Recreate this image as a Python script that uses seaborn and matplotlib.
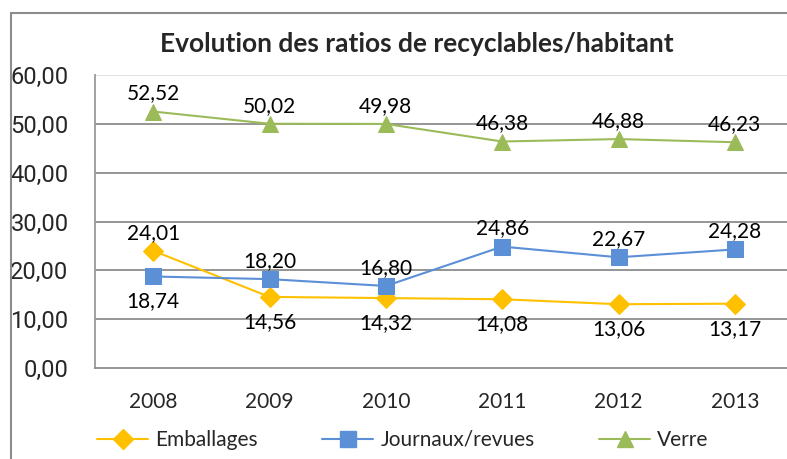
import matplotlib.pyplot as plt
from matplotlib.lines import Line2D
import seaborn as sns
import pandas as pd

years = [2008, 2009, 2010, 2011, 2012, 2013]
emballages = [24.01, 14.56, 14.32, 14.08, 13.06, 13.17]
journaux = [18.74, 18.20, 16.80, 24.86, 22.67, 24.28]
verre = [52.52, 50.02, 49.98, 46.38, 46.88, 46.23]
series_names = ['Emballages', 'Journaux/revues', 'Verre']
yticks = [0, 10, 20, 30, 40, 50, 60]

# label above (+1) or below (-1) each point
emb_side = [1, -1, -1, -1, -1, -1]
jou_side = [-1, 1, 1, 1, 1, 1]
ver_side = [1, 1, 1, 1, 1, 1]

colors = {'Emballages': '#FFC000', 'Journaux/revues': '#5B8FD6', 'Verre': '#9BBB59'}
markers = {'Emballages': 'D', 'Journaux/revues': 's', 'Verre': '^'}
msizes = {'Emballages': 10, 'Journaux/revues': 11, 'Verre': 12}

df = pd.DataFrame({'year': years * 3,
                   'value': emballages + journaux + verre,
                   'serie': [s for s in series_names for _ in years]})

sns.set_style('white')
plt.rcParams['font.family'] = ['Lato', 'DejaVu Sans']

fig = plt.figure(figsize=(7.87, 4.59), dpi=100)
ax = fig.add_axes([95/787, 91/459, 698/787, 293/459])

for name, vals, sides in zip(series_names, [emballages, journaux, verre], [emb_side, jou_side, ver_side]):
    sub = df[df['serie'] == name]
    sns.lineplot(data=sub, x='year', y='value', ax=ax, color=colors[name], marker=markers[name],
                 markersize=msizes[name], markeredgecolor=colors[name], linewidth=1.5, legend=False)
    for x, v, s in zip(years, vals, sides):
        ax.annotate(f"{v:.2f}".replace('.', ','), (x, v), xytext=(0, 13 if s > 0 else -18),
                    textcoords='offset points', ha='center', va='center', fontsize=15, color='black')

ax.set_xlim(2007.5, 2013.5)
ax.set_ylim(0, 60)
ax.set_yticks(yticks)
ax.set_yticklabels([f"{t:.2f}".replace('.', ',') for t in yticks],
                   fontsize=17, family=['Roboto', 'DejaVu Sans'])
ax.set_xticks(years)
ax.set_xticklabels([str(y) for y in years], fontsize=15)
ax.tick_params(axis='y', length=0, pad=19)
ax.tick_params(axis='x', length=0, pad=17)
ax.set_xlabel('')
ax.set_ylabel('')
for t in yticks[1:-1]:
    ax.axhline(t, color='#8c8c8c', lw=1.3, zorder=0)
ax.axhline(60, color='#dddddd', lw=1.3, zorder=0)
for sp in ['top', 'right']:
    ax.spines[sp].set_visible(False)
ax.spines['left'].set_color('#9a9a9a')
ax.spines['bottom'].set_color('#8c8c8c')
ax.spines['left'].set_linewidth(1.3)
ax.spines['bottom'].set_linewidth(1.3)

fig.text(417/787, 1 - 44/459, 'Evolution des ratios de recyclables/habitant',
         ha='center', va='center', fontsize=19, fontweight='bold')

# outer chart border
fig.add_artist(Line2D([11/787, 1], [1 - 13/459, 1 - 13/459], transform=fig.transFigure, color='#8c8c8c', lw=1.5))
fig.add_artist(Line2D([11/787, 11/787], [0, 1 - 13/459], transform=fig.transFigure, color='#8c8c8c', lw=1.5))

handles = [Line2D([], [], color=colors[n], marker=markers[n], markersize=msizes[n], lw=1.5) for n in series_names]
fig.legend(handles, series_names, loc='center left', bbox_to_anchor=(97/787, 1 - 440/459), ncol=3,
           frameon=False, fontsize=15, handlelength=2.45, handletextpad=0.34, columnspacing=3.1,
           borderpad=0, borderaxespad=0)

fig.savefig('out.png', dpi=100)
